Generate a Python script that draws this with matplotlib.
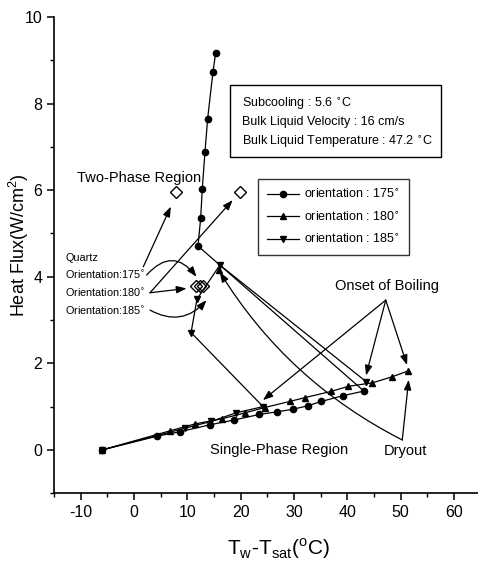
import matplotlib
matplotlib.use("Agg")
import matplotlib.pyplot as plt
from matplotlib.patches import Rectangle
from matplotlib.ticker import MultipleLocator

plt.rcParams['font.family'] = ['Liberation Sans', 'DejaVu Sans']
plt.rcParams['axes.unicode_minus'] = False

# ---- data ----
x175 = [-6, 4.4, 8.6, 14.2, 18.7, 23.5, 26.8, 29.8, 32.6, 35.1, 39.1, 43.1,
        12.0, 12.5, 12.8, 13.3, 13.8, 14.8, 15.3]
y175 = [0, 0.32, 0.42, 0.58, 0.69, 0.82, 0.88, 0.94, 1.02, 1.12, 1.25, 1.36,
        4.71, 5.35, 6.03, 6.87, 7.64, 8.73, 9.16]

x180 = [-6, 6.7, 11.4, 16.5, 20.9, 24.5, 29.2, 32.1, 36.9, 40.2, 44.7, 48.4, 51.3]
y180 = [0, 0.44, 0.60, 0.72, 0.86, 0.98, 1.12, 1.21, 1.35, 1.47, 1.55, 1.69, 1.82]
x180_peak = [16.0]
y180_peak = [4.15]

x185 = [-6, 9.5, 14.5, 19.2, 24.2, 10.7, 11.8, 16.1, 43.5]
y185 = [0, 0.50, 0.66, 0.86, 1.0, 2.71, 3.48, 4.27, 1.58]

two_phase_x = [7.9, 19.8]
two_phase_y = [5.95, 5.95]
quartz_x = [11.6, 12.3, 12.9]
quartz_y = [3.78, 3.78, 3.78]

legend_labels = ['orientation : 175$^{\\circ}$',
                 'orientation : 180$^{\\circ}$',
                 'orientation : 185$^{\\circ}$']
info_lines = ['Subcooling : 5.6 $^{\\circ}$C',
              'Bulk Liquid Velocity : 16 cm/s',
              'Bulk Liquid Temperature : 47.2 $^{\\circ}$C']

fig = plt.figure(figsize=(4.78, 5.65), dpi=100)
ax = fig.add_axes([0.113, 0.127, 0.887, 0.843])

mk = dict(color='black', lw=0.9, markersize=4.5)
l1, = ax.plot(x175, y175, marker='o', **mk)
l2, = ax.plot(x180, y180, marker='^', **mk)
ax.plot(x180_peak, y180_peak, marker='^', ls='none', color='black', markersize=4.5)
l3, = ax.plot(x185, y185, marker='v', **mk)

ax.plot(two_phase_x, two_phase_y, ls='none', marker='D', markersize=6,
        markerfacecolor='white', markeredgecolor='black', markeredgewidth=1)
ax.plot(quartz_x, quartz_y, ls='none', marker='D', markersize=6,
        markerfacecolor='none', markeredgecolor='black', markeredgewidth=1)

ax.set_xlim(-15, 64.5)
ax.set_ylim(-1, 10)
ax.xaxis.set_major_locator(MultipleLocator(10))
ax.xaxis.set_minor_locator(MultipleLocator(5))
ax.yaxis.set_major_locator(MultipleLocator(2))
ax.yaxis.set_minor_locator(MultipleLocator(1))
for s in ['top', 'right']:
    ax.spines[s].set_visible(False)
for s in ['left', 'bottom']:
    ax.spines[s].set_linewidth(1.2)
ax.tick_params(which='major', direction='out', length=5, width=1.1, labelsize=11.5)
ax.tick_params(which='minor', direction='out', length=3, width=1.0)

ax.set_xlabel('T$_{\\mathregular{w}}$-T$_{\\mathregular{sat}}$($^{\\mathregular{o}}$C)', fontsize=15)
ax.xaxis.set_label_coords(0.53, -0.09)
ax.set_ylabel('Heat Flux(W/cm$^{\\mathregular{2}}$)', fontsize=13)
ax.yaxis.set_label_coords(-0.055, 0.52)

leg = ax.legend([l1, l2, l3], legend_labels, loc='upper left',
                bbox_to_anchor=(0.466, 0.672), fontsize=9, frameon=True,
                fancybox=False, edgecolor='black', handlelength=2.6,
                borderpad=0.7, labelspacing=0.75, handletextpad=0.4)
leg.get_frame().set_linewidth(1.0)

ax.add_patch(Rectangle((0.415, 0.706), 0.498, 0.151, transform=ax.transAxes,
                       fill=False, edgecolor='black', lw=1.0, clip_on=False))
for txt, yy in zip(info_lines, [0.818, 0.780, 0.738]):
    ax.text(0.443, yy, txt, transform=ax.transAxes, fontsize=9, va='center', ha='left')

# annotation texts
ax.text(-10.7, 6.27, 'Two-Phase Region', fontsize=10.5, va='center', ha='left')
ax.text(-12.9, 4.43, 'Quartz', fontsize=7.8, va='center', ha='left')
ax.text(-12.9, 4.03, 'Orientation:175$^{\\circ}$', fontsize=7.8, va='center', ha='left')
ax.text(-12.9, 3.62, 'Orientation:180$^{\\circ}$', fontsize=7.8, va='center', ha='left')
ax.text(-12.9, 3.21, 'Orientation:185$^{\\circ}$', fontsize=7.8, va='center', ha='left')
ax.text(37.6, 3.79, 'Onset of Boiling', fontsize=10.5, va='center', ha='left')
ax.text(14.2, 0.0, 'Single-Phase Region', fontsize=10.5, va='center', ha='left')
ax.text(46.9, -0.02, 'Dryout', fontsize=10.5, va='center', ha='left')

def arrow(x0, y0, x1, y1, rad=0.0):
    ax.annotate('', xy=(x1, y1), xytext=(x0, y0),
                arrowprops=dict(arrowstyle='-|>,head_length=0.6,head_width=0.22',
                                color='black', lw=0.9, shrinkA=0, shrinkB=0,
                                mutation_scale=10,
                                connectionstyle='arc3,rad=%s' % rad))

# Two-phase arrows
arrow(1.74, 4.23, 6.9, 5.62)
arrow(2.99, 3.63, 18.5, 5.77)
# quartz arrows
arrow(2.99, 3.63, 9.85, 3.73)
arrow(2.37, 4.04, 11.72, 4.0, rad=-0.6)
arrow(2.99, 3.23, 13.59, 3.46, rad=0.4)
# onset of boiling
arrow(47.2, 3.46, 24.17, 1.15)
arrow(47.2, 3.46, 43.5, 1.72)
arrow(47.2, 3.46, 51.2, 1.96)
# dryout
arrow(50.3, 0.23, 51.5, 1.62)
arrow(50.3, 0.23, 16.07, 4.11, rad=-0.14)

fig.savefig('out.png', dpi=100)
